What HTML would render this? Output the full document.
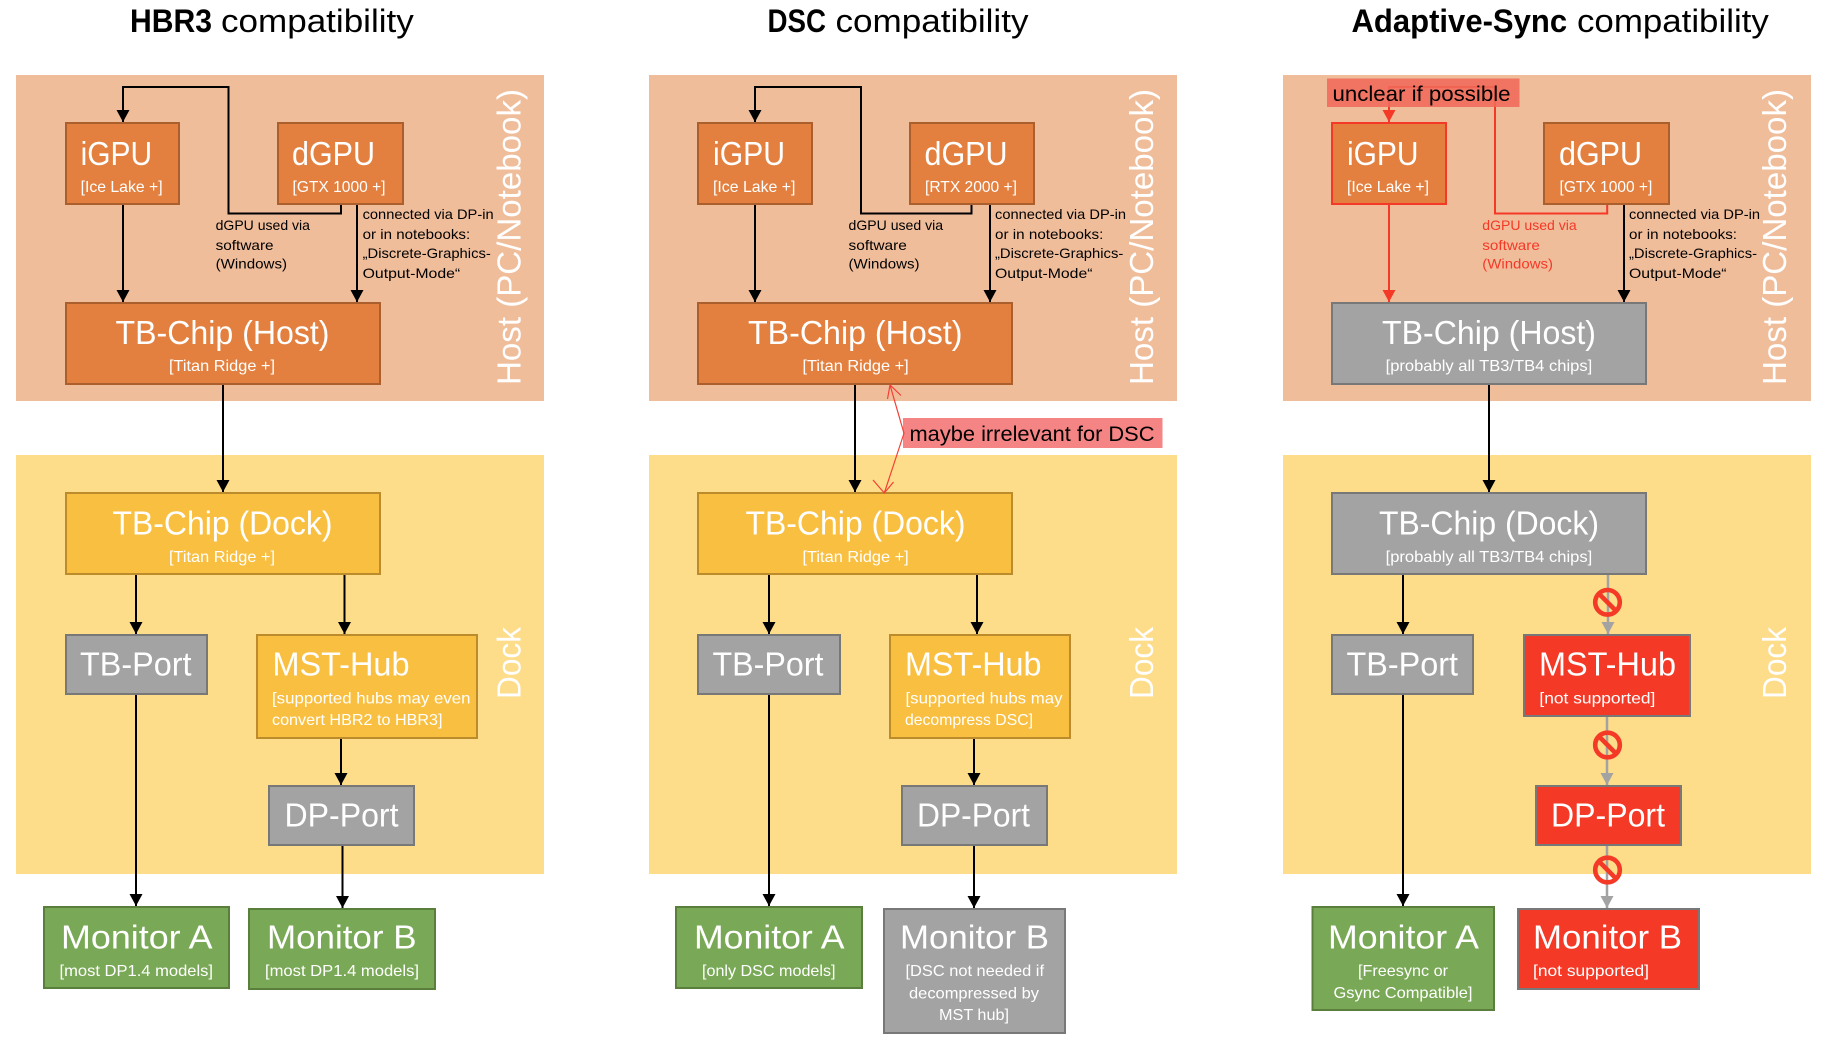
<!DOCTYPE html>
<html><head><meta charset="utf-8"><title>Compatibility</title>
<style>
html,body{margin:0;padding:0;background:#fff}
svg{display:block}
text{font-family:"Liberation Sans",sans-serif;fill:#fff}
.t{font-size:32px;fill:#000}.tb{font-size:32px;font-weight:bold;fill:#000}
.b{font-size:33px}.s{font-size:16px}.a{font-size:14px;fill:#000}.ar{font-size:14px;fill:#f43927}
.l{font-size:21px;fill:#000}
.v{font-size:33px;fill:#fff}
.o{fill:#e3803f;stroke:#aa5f2c;stroke-width:2}
.y{fill:#f9bf40;stroke:#bc8c2c;stroke-width:2}
.g{fill:#a3a3a3;stroke:#787878;stroke-width:2}
.n{fill:#79a956;stroke:#5a7f3d;stroke-width:2}
.r{fill:#f43927;stroke:#787878;stroke-width:2}
.ro{fill:#e3803f;stroke:#f43927;stroke-width:2}
.k{fill:none;stroke:#000;stroke-width:2}
.kr{fill:none;stroke:#f43927;stroke-width:2}
.kg{fill:none;stroke:#a3a3a3;stroke-width:2.5}
.sg{fill:none;stroke:#f43927;stroke-width:4.6}
</style></head><body>
<svg width="1824" height="1041" viewBox="0 0 1824 1041" xmlns="http://www.w3.org/2000/svg">
<defs>
<marker id="ak" markerUnits="userSpaceOnUse" markerWidth="13" markerHeight="13" refX="12" refY="6.5" orient="auto"><path d="M0 0L12 6.5L0 13Z" fill="#000"/></marker>
<marker id="ar" markerUnits="userSpaceOnUse" markerWidth="13" markerHeight="13" refX="12" refY="6.5" orient="auto"><path d="M0 0L12 6.5L0 13Z" fill="#f43927"/></marker>
<marker id="ag" markerUnits="userSpaceOnUse" markerWidth="13" markerHeight="13" refX="12" refY="6.5" orient="auto"><path d="M0 0L12 6.5L0 13Z" fill="#a3a3a3"/></marker>
</defs>
<rect width="1824" height="1041" fill="#fff"/>

<!-- panels -->
<rect x="16" y="75" width="528" height="326" fill="#f0bd9b"/>
<rect x="16" y="455" width="528" height="419" fill="#fddc8a"/>
<rect x="649" y="75" width="528" height="326" fill="#f0bd9b"/>
<rect x="649" y="455" width="528" height="419" fill="#fddc8a"/>
<rect x="1283" y="75" width="528" height="326" fill="#f0bd9b"/>
<rect x="1283" y="455" width="528" height="419" fill="#fddc8a"/>

<!-- titles -->
<text class="tb" x="130" y="32" textLength="82" lengthAdjust="spacingAndGlyphs">HBR3</text>
<text class="t" x="221" y="32" textLength="192.8" lengthAdjust="spacingAndGlyphs">compatibility</text>
<text class="tb" x="767.5" y="32" textLength="58.5" lengthAdjust="spacingAndGlyphs">DSC</text>
<text class="t" x="835.5" y="32" textLength="193" lengthAdjust="spacingAndGlyphs">compatibility</text>
<text class="tb" x="1351.5" y="32" textLength="215.6" lengthAdjust="spacingAndGlyphs">Adaptive-Sync</text>
<text class="t" x="1577" y="32" textLength="191.8" lengthAdjust="spacingAndGlyphs">compatibility</text>

<!-- COLUMN 1 connectors -->
<path class="k" d="M123 204V302" marker-end="url(#ak)"/>
<path class="k" d="M357 204V302" marker-end="url(#ak)"/>
<path class="k" d="M341 204V213.5H228.5V87H123V122" marker-end="url(#ak)"/>
<path class="k" d="M223 385V492" marker-end="url(#ak)"/>
<path class="k" d="M136 574V634" marker-end="url(#ak)"/>
<path class="k" d="M344.5 574V634" marker-end="url(#ak)"/>
<path class="k" d="M136 694V906" marker-end="url(#ak)"/>
<path class="k" d="M341 738V785" marker-end="url(#ak)"/>
<path class="k" d="M342.5 845V908" marker-end="url(#ak)"/>
<!-- COLUMN 1 boxes -->
<rect class="o" x="66" y="123" width="113" height="81"/>
<rect class="o" x="278" y="123" width="125" height="81"/>
<rect class="o" x="66" y="303" width="314" height="81"/>
<rect class="y" x="66" y="493" width="314" height="81"/>
<rect class="g" x="66" y="635" width="141" height="59"/>
<rect class="y" x="257" y="635" width="220" height="103"/>
<rect class="g" x="269" y="786" width="145" height="59"/>
<rect class="n" x="44" y="907" width="185" height="81"/>
<rect class="n" x="249" y="909" width="186" height="80"/>
<!-- COLUMN 1 text -->
<text class="b" x="80.6" y="165" textLength="71.5" lengthAdjust="spacingAndGlyphs">iGPU</text>
<text class="s" x="80.6" y="192.2" textLength="82" lengthAdjust="spacingAndGlyphs">[Ice Lake +]</text>
<text class="b" x="292" y="165" textLength="83" lengthAdjust="spacingAndGlyphs">dGPU</text>
<text class="s" x="292.5" y="192.2" textLength="93" lengthAdjust="spacingAndGlyphs">[GTX 1000 +]</text>
<text class="b" x="115.5" y="344" textLength="214" lengthAdjust="spacingAndGlyphs">TB-Chip (Host)</text>
<text class="s" x="169" y="371.2" textLength="106" lengthAdjust="spacingAndGlyphs">[Titan Ridge +]</text>
<text class="a" x="215.6" y="230" textLength="94.4" lengthAdjust="spacingAndGlyphs">dGPU used via</text>
<text class="a" x="215.6" y="250" textLength="58" lengthAdjust="spacingAndGlyphs">software</text>
<text class="a" x="215.6" y="268.7" textLength="71.5" lengthAdjust="spacingAndGlyphs">(Windows)</text>
<text class="a" x="362.6" y="219" textLength="131" lengthAdjust="spacingAndGlyphs">connected via DP-in</text>
<text class="a" x="362.6" y="239" textLength="107.6" lengthAdjust="spacingAndGlyphs">or in notebooks:</text>
<text class="a" x="362.6" y="258" textLength="128.2" lengthAdjust="spacingAndGlyphs">„Discrete-Graphics-</text>
<text class="a" x="362.6" y="278" textLength="97.6" lengthAdjust="spacingAndGlyphs">Output-Mode“</text>
<text class="v" transform="translate(520.6,385) rotate(-90)" textLength="296" lengthAdjust="spacingAndGlyphs">Host (PC/Notebook)</text>
<text class="b" x="112.5" y="534.5" textLength="220" lengthAdjust="spacingAndGlyphs">TB-Chip (Dock)</text>
<text class="s" x="169" y="562.2" textLength="106" lengthAdjust="spacingAndGlyphs">[Titan Ridge +]</text>
<text class="b" x="80" y="675.5" textLength="111.5" lengthAdjust="spacingAndGlyphs">TB-Port</text>
<text class="b" x="272.5" y="675.5" textLength="137" lengthAdjust="spacingAndGlyphs">MST-Hub</text>
<text class="s" x="272" y="703.3" textLength="198.5" lengthAdjust="spacingAndGlyphs">[supported hubs may even</text>
<text class="s" x="272" y="725" textLength="170.5" lengthAdjust="spacingAndGlyphs">convert HBR2 to HBR3]</text>
<text class="b" x="284.5" y="826.7" textLength="114" lengthAdjust="spacingAndGlyphs">DP-Port</text>
<text class="v" transform="translate(520.6,699) rotate(-90)" textLength="72" lengthAdjust="spacingAndGlyphs">Dock</text>
<text class="b" x="61" y="948.5" textLength="151.5" lengthAdjust="spacingAndGlyphs">Monitor A</text>
<text class="s" x="59.5" y="976" textLength="153.5" lengthAdjust="spacingAndGlyphs">[most DP1.4 models]</text>
<text class="b" x="267" y="948.5" textLength="149.5" lengthAdjust="spacingAndGlyphs">Monitor B</text>
<text class="s" x="265" y="976" textLength="154" lengthAdjust="spacingAndGlyphs">[most DP1.4 models]</text>

<!-- COLUMN 2 connectors -->
<path class="k" d="M755 204V302" marker-end="url(#ak)"/>
<path class="k" d="M990 204V302" marker-end="url(#ak)"/>
<path class="k" d="M971.5 204V213.5H861V87H755V122" marker-end="url(#ak)"/>
<path class="k" d="M855 385V492" marker-end="url(#ak)"/>
<path class="k" d="M769 574V634" marker-end="url(#ak)"/>
<path class="k" d="M977 574V634" marker-end="url(#ak)"/>
<path class="k" d="M769 694V906" marker-end="url(#ak)"/>
<path class="k" d="M974 738V785" marker-end="url(#ak)"/>
<path class="k" d="M974 845V908" marker-end="url(#ak)"/>
<!-- COLUMN 2 boxes -->
<rect class="o" x="698" y="123" width="114" height="81"/>
<rect class="o" x="910" y="123" width="124" height="81"/>
<rect class="o" x="698" y="303" width="314" height="81"/>
<rect class="y" x="698" y="493" width="314" height="81"/>
<rect class="g" x="698" y="635" width="142" height="59"/>
<rect class="y" x="890" y="635" width="180" height="103"/>
<rect class="g" x="902" y="786" width="145" height="59"/>
<rect class="n" x="676" y="907" width="186" height="81"/>
<rect class="g" x="884" y="909" width="181" height="124"/>
<!-- COLUMN 2 text -->
<text class="b" x="713" y="165" textLength="72" lengthAdjust="spacingAndGlyphs">iGPU</text>
<text class="s" x="713" y="192.2" textLength="82.4" lengthAdjust="spacingAndGlyphs">[Ice Lake +]</text>
<text class="b" x="924.5" y="165" textLength="83" lengthAdjust="spacingAndGlyphs">dGPU</text>
<text class="s" x="925" y="192.2" textLength="92" lengthAdjust="spacingAndGlyphs">[RTX 2000 +]</text>
<text class="b" x="748" y="344" textLength="214.5" lengthAdjust="spacingAndGlyphs">TB-Chip (Host)</text>
<text class="s" x="802.5" y="371.2" textLength="106.2" lengthAdjust="spacingAndGlyphs">[Titan Ridge +]</text>
<text class="a" x="848.5" y="230" textLength="94.6" lengthAdjust="spacingAndGlyphs">dGPU used via</text>
<text class="a" x="848.5" y="250" textLength="58.4" lengthAdjust="spacingAndGlyphs">software</text>
<text class="a" x="848.5" y="268.7" textLength="71" lengthAdjust="spacingAndGlyphs">(Windows)</text>
<text class="a" x="995" y="219" textLength="131" lengthAdjust="spacingAndGlyphs">connected via DP-in</text>
<text class="a" x="995" y="239" textLength="108.4" lengthAdjust="spacingAndGlyphs">or in notebooks:</text>
<text class="a" x="995" y="258" textLength="128.3" lengthAdjust="spacingAndGlyphs">„Discrete-Graphics-</text>
<text class="a" x="995" y="278" textLength="97.5" lengthAdjust="spacingAndGlyphs">Output-Mode“</text>
<text class="v" transform="translate(1153,385) rotate(-90)" textLength="296" lengthAdjust="spacingAndGlyphs">Host (PC/Notebook)</text>
<text class="b" x="745.5" y="534.5" textLength="220" lengthAdjust="spacingAndGlyphs">TB-Chip (Dock)</text>
<text class="s" x="802.5" y="562.2" textLength="106.2" lengthAdjust="spacingAndGlyphs">[Titan Ridge +]</text>
<text class="b" x="712.5" y="675.5" textLength="111" lengthAdjust="spacingAndGlyphs">TB-Port</text>
<text class="b" x="905" y="675.5" textLength="136.5" lengthAdjust="spacingAndGlyphs">MST-Hub</text>
<text class="s" x="905.5" y="703.3" textLength="157" lengthAdjust="spacingAndGlyphs">[supported hubs may</text>
<text class="s" x="905" y="725" textLength="128" lengthAdjust="spacingAndGlyphs">decompress DSC]</text>
<text class="b" x="917" y="826.7" textLength="113" lengthAdjust="spacingAndGlyphs">DP-Port</text>
<text class="v" transform="translate(1153,699) rotate(-90)" textLength="72" lengthAdjust="spacingAndGlyphs">Dock</text>
<text class="b" x="694" y="948.5" textLength="150.5" lengthAdjust="spacingAndGlyphs">Monitor A</text>
<text class="s" x="702" y="976" textLength="133.5" lengthAdjust="spacingAndGlyphs">[only DSC models]</text>
<text class="b" x="900" y="948.5" textLength="149" lengthAdjust="spacingAndGlyphs">Monitor B</text>
<text class="s" x="905.5" y="976" textLength="138.5" lengthAdjust="spacingAndGlyphs">[DSC not needed if</text>
<text class="s" x="909" y="998.3" textLength="130" lengthAdjust="spacingAndGlyphs">decompressed by</text>
<text class="s" x="939" y="1020" textLength="70" lengthAdjust="spacingAndGlyphs">MST hub]</text>
<!-- maybe irrelevant -->
<rect x="903" y="418" width="259.5" height="30" fill="#f58484"/>
<text class="l" x="909.5" y="441" textLength="245" lengthAdjust="spacingAndGlyphs">maybe irrelevant for DSC</text>
<path d="M890 385L904 433.3L884.3 493" fill="none" stroke="#f43f35" stroke-width="1.2"/>
<path d="M887.5 399L890 385L901 395.5M873 480L884.3 493L893.5 482" fill="none" stroke="#f43f35" stroke-width="1.2"/>

<!-- COLUMN 3 connectors -->
<path class="kr" d="M1389 204V302" marker-end="url(#ar)"/>
<path class="k" d="M1624 204V302" marker-end="url(#ak)"/>
<path class="kr" d="M1607.2 204V213.5H1495V87H1389V122" marker-end="url(#ar)"/>
<rect x="1327" y="78.5" width="192.5" height="28.5" fill="#f0695a" opacity=".88"/>
<text class="l" x="1332.5" y="101" textLength="178" lengthAdjust="spacingAndGlyphs">unclear if possible</text>
<path class="k" d="M1489 385V492" marker-end="url(#ak)"/>
<path class="k" d="M1403 574V634" marker-end="url(#ak)"/>
<path class="k" d="M1403 694V906" marker-end="url(#ak)"/>
<path class="kg" d="M1608 574V634" marker-end="url(#ag)"/>
<path class="kg" d="M1607 716V785" marker-end="url(#ag)"/>
<path class="kg" d="M1607 845V908" marker-end="url(#ag)"/>
<!-- signs -->
<g transform="translate(1607.5,602.3)"><circle class="sg" r="12.3"/><path class="sg" d="M-8.7-8.7L8.7 8.7"/></g>
<g transform="translate(1607.5,745)"><circle class="sg" r="12.3"/><path class="sg" d="M-8.7-8.7L8.7 8.7"/></g>
<g transform="translate(1607.5,870)"><circle class="sg" r="12.3"/><path class="sg" d="M-8.7-8.7L8.7 8.7"/></g>
<!-- COLUMN 3 boxes -->
<rect class="ro" x="1332" y="123" width="114" height="81"/>
<rect class="o" x="1544" y="123" width="125" height="81"/>
<rect class="g" x="1332" y="303" width="314" height="81"/>
<rect class="g" x="1332" y="493" width="314" height="81"/>
<rect class="g" x="1332" y="635" width="141" height="59"/>
<rect class="r" x="1524" y="635" width="166" height="81"/>
<rect class="r" x="1536" y="786" width="145" height="59"/>
<rect class="n" x="1312.5" y="907" width="181.5" height="103"/>
<rect class="r" x="1518" y="909" width="181" height="80"/>
<!-- COLUMN 3 text -->
<text class="b" x="1347" y="165" textLength="71.5" lengthAdjust="spacingAndGlyphs">iGPU</text>
<text class="s" x="1347" y="192.2" textLength="82" lengthAdjust="spacingAndGlyphs">[Ice Lake +]</text>
<text class="b" x="1559" y="165" textLength="83" lengthAdjust="spacingAndGlyphs">dGPU</text>
<text class="s" x="1559.5" y="192.2" textLength="92.8" lengthAdjust="spacingAndGlyphs">[GTX 1000 +]</text>
<text class="b" x="1382" y="344" textLength="214" lengthAdjust="spacingAndGlyphs">TB-Chip (Host)</text>
<text class="s" x="1385.6" y="371.2" textLength="206.6" lengthAdjust="spacingAndGlyphs">[probably all TB3/TB4 chips]</text>
<text class="ar" x="1482.3" y="230" textLength="94.4" lengthAdjust="spacingAndGlyphs">dGPU used via</text>
<text class="ar" x="1482.3" y="250" textLength="57.5" lengthAdjust="spacingAndGlyphs">software</text>
<text class="ar" x="1482.3" y="268.7" textLength="70.7" lengthAdjust="spacingAndGlyphs">(Windows)</text>
<text class="a" x="1629" y="219" textLength="131" lengthAdjust="spacingAndGlyphs">connected via DP-in</text>
<text class="a" x="1629" y="239" textLength="108" lengthAdjust="spacingAndGlyphs">or in notebooks:</text>
<text class="a" x="1629" y="258" textLength="128" lengthAdjust="spacingAndGlyphs">„Discrete-Graphics-</text>
<text class="a" x="1629" y="278" textLength="97.5" lengthAdjust="spacingAndGlyphs">Output-Mode“</text>
<text class="v" transform="translate(1786,385) rotate(-90)" textLength="296" lengthAdjust="spacingAndGlyphs">Host (PC/Notebook)</text>
<text class="b" x="1379" y="534.5" textLength="220" lengthAdjust="spacingAndGlyphs">TB-Chip (Dock)</text>
<text class="s" x="1385.6" y="562.2" textLength="206.6" lengthAdjust="spacingAndGlyphs">[probably all TB3/TB4 chips]</text>
<text class="b" x="1346.5" y="675.5" textLength="111.5" lengthAdjust="spacingAndGlyphs">TB-Port</text>
<text class="b" x="1539" y="675.5" textLength="137" lengthAdjust="spacingAndGlyphs">MST-Hub</text>
<text class="s" x="1539.4" y="703.3" textLength="116" lengthAdjust="spacingAndGlyphs">[not supported]</text>
<text class="b" x="1551" y="826.7" textLength="114" lengthAdjust="spacingAndGlyphs">DP-Port</text>
<text class="v" transform="translate(1786,699) rotate(-90)" textLength="72" lengthAdjust="spacingAndGlyphs">Dock</text>
<text class="b" x="1328" y="948.5" textLength="151" lengthAdjust="spacingAndGlyphs">Monitor A</text>
<text class="s" x="1358" y="976" textLength="90" lengthAdjust="spacingAndGlyphs">[Freesync or</text>
<text class="s" x="1333.5" y="998" textLength="139" lengthAdjust="spacingAndGlyphs">Gsync Compatible]</text>
<text class="b" x="1533" y="948.5" textLength="149" lengthAdjust="spacingAndGlyphs">Monitor B</text>
<text class="s" x="1533" y="976" textLength="116" lengthAdjust="spacingAndGlyphs">[not supported]</text>
</svg>
</body></html>
